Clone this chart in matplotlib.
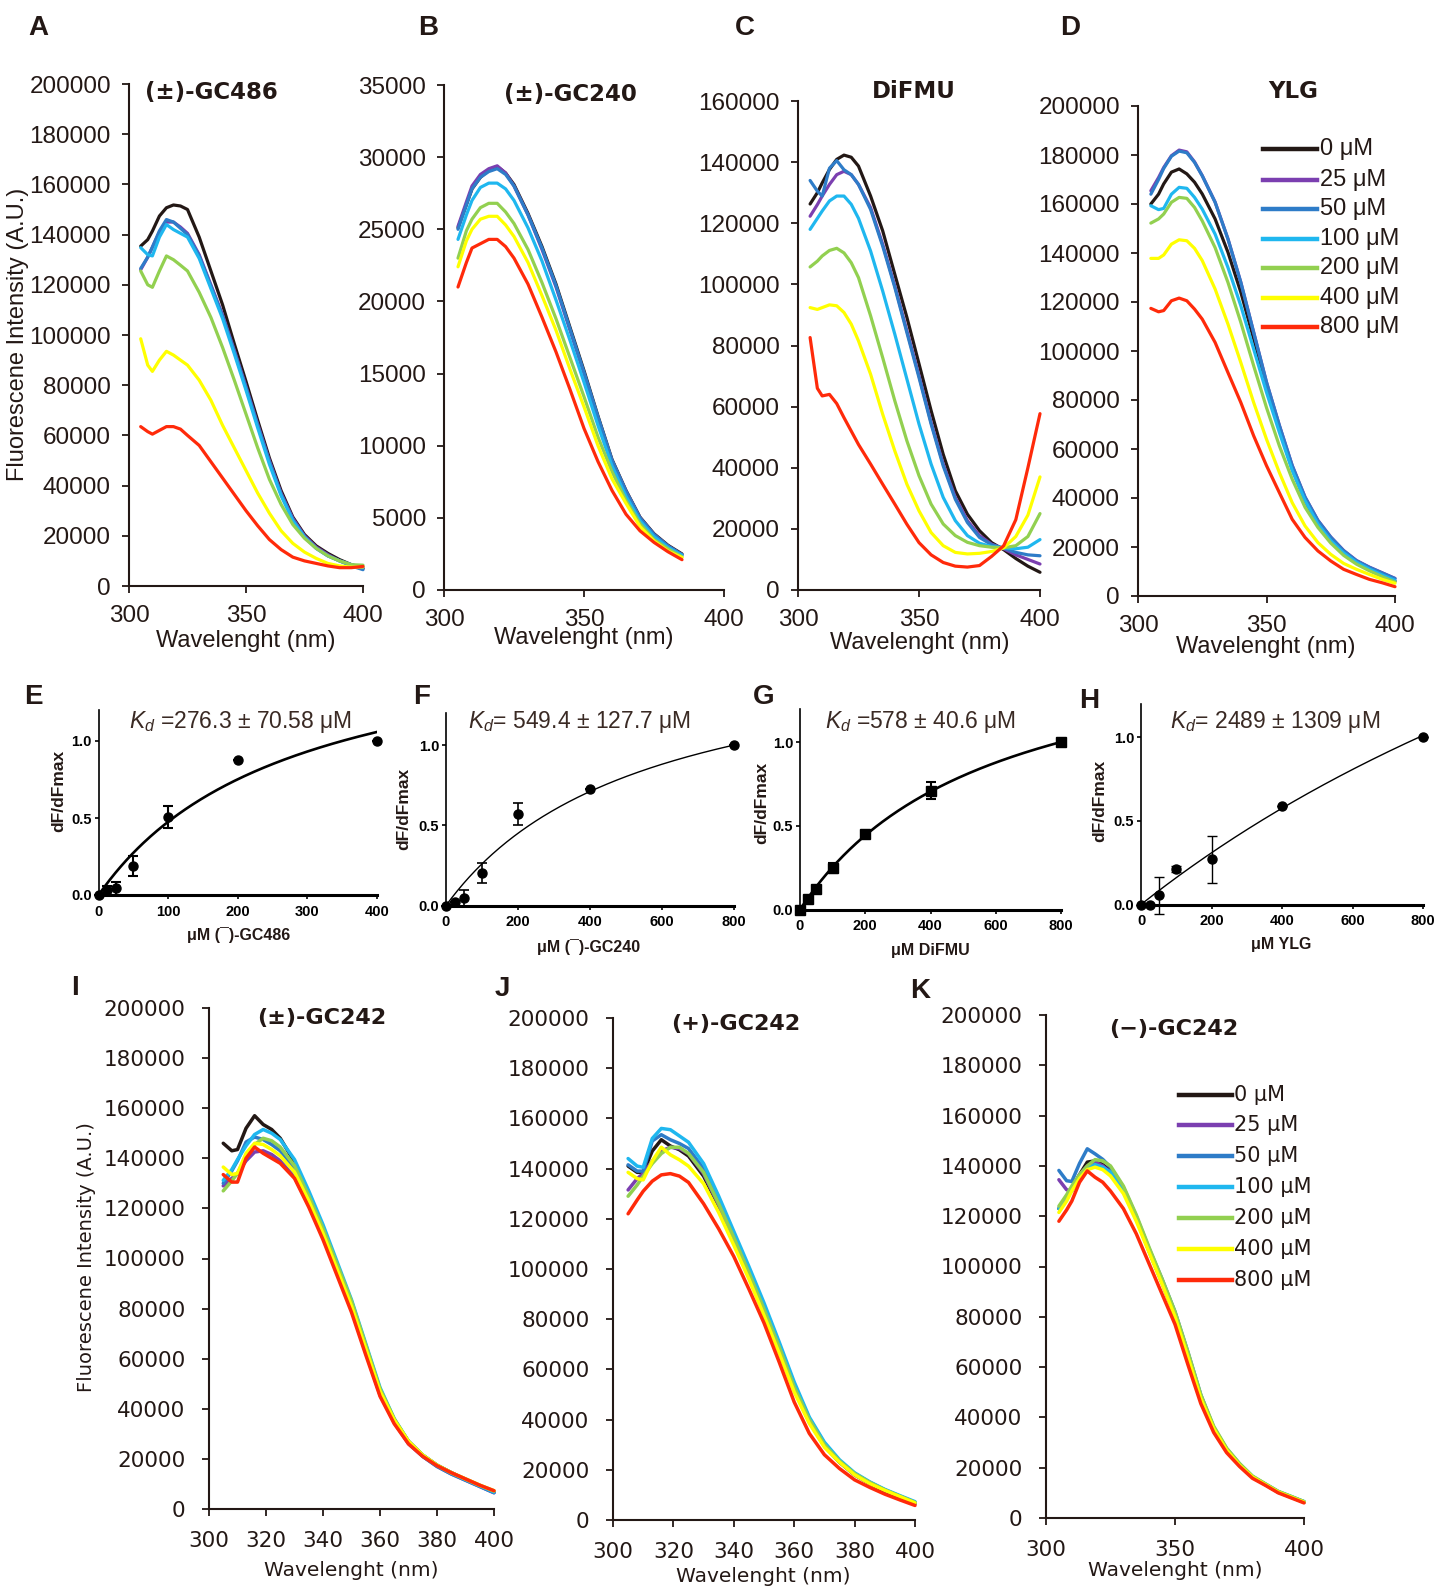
import numpy as np
import matplotlib
matplotlib.use("Agg")
import matplotlib.pyplot as plt
from matplotlib import font_manager
from matplotlib.lines import Line2D

# canvas in pixels (dpi 100)
W, H = 1437, 1593
INK = "#231815"
ARIAL = ["Liberation Sans", "DejaVu Sans"]
VERDANA = ["DejaVu Sans"]

# condensed face for the titration panels, if the system has one
try:
    font_manager.findfont("Liberation Sans Narrow", fallback_to_default=False)
    HAS_NARROW = True
except ValueError:
    HAS_NARROW = False
NARROW = ["Liberation Sans Narrow", "Liberation Sans", "DejaVu Sans"] if HAS_NARROW else ARIAL
KD_SIZE = 19 if HAS_NARROW else 16.5

plt.rcParams["mathtext.fontset"] = "custom"
plt.rcParams["mathtext.it"] = ("Liberation Sans Narrow:italic" if HAS_NARROW
                               else "Liberation Sans:italic")
plt.rcParams["mathtext.rm"] = NARROW[0]

# ── emission spectra (intensity in thousands of A.U.) ────────────────────────
WL = [305, 308, 310, 313, 316, 319, 322, 325, 330, 335, 340, 345,
      350, 355, 360, 365, 370, 375, 380, 385, 390, 395, 400]

CONC = ["0 μM", "25 μM", "50 μM", "100 μM", "200 μM", "400 μM", "800 μM"]
COLORS = ["#231815", "#7b3fb0", "#2e7cc8", "#1fb7ef", "#92d050", "#ffff00", "#ff2a0a"]

# (±)-GC486
A_0 = [135.4, 138.0, 141.4, 147.4, 150.7, 151.8, 151.4, 150.0, 139.0, 125.5, 112.0, 96.5, 81.5, 66.0, 51.0, 38.0, 27.5, 20.5, 16.0, 13.0, 10.5, 8.5, 7.0]
A_25 = [126.0, 131.0, 135.0, 141.0, 145.0, 145.0, 143.0, 140.5, 132.0, 120.0, 108.0, 94.0, 79.5, 64.5, 50.0, 37.0, 27.0, 20.0, 15.5, 12.5, 10.0, 8.5, 7.0]
A_50 = [126.5, 131.0, 135.0, 141.5, 146.0, 145.0, 142.5, 140.0, 131.5, 119.5, 107.5, 93.5, 79.0, 64.0, 49.5, 36.5, 26.5, 19.5, 15.0, 12.0, 10.0, 8.0, 6.5]
A_100 = [134.8, 132.0, 131.5, 139.0, 144.0, 142.0, 140.5, 139.0, 130.5, 118.5, 106.5, 92.5, 78.0, 63.0, 48.5, 36.0, 26.0, 19.5, 15.0, 12.0, 10.0, 8.5, 7.5]
A_200 = [125.5, 120.0, 119.0, 125.5, 131.5, 130.0, 127.8, 125.5, 117.0, 107.0, 95.0, 82.0, 68.5, 55.0, 42.5, 32.5, 24.5, 19.0, 15.0, 12.0, 10.0, 8.5, 8.3]
A_400 = [98.5, 88.0, 85.5, 90.0, 93.5, 92.0, 90.0, 88.0, 82.0, 74.0, 64.0, 55.0, 46.0, 37.0, 29.0, 22.0, 17.0, 13.5, 11.0, 9.0, 8.0, 7.5, 7.6]
A_800 = [63.5, 61.5, 60.5, 62.0, 63.5, 63.5, 62.5, 60.0, 56.0, 49.5, 43.0, 36.5, 30.0, 24.0, 18.5, 14.5, 11.5, 10.0, 9.0, 8.0, 7.3, 7.3, 7.8]

# (±)-GC240 (recorded up to 385 nm)
B_0 = [25.1, 26.7, 27.8, 28.6, 29.1, 29.35, 28.9, 28.1, 26.1, 23.8, 21.2, 18.2, 15.2, 12.05, 9.05, 6.9, 5.05, 3.9, 3.1, 2.5]
B_25 = [25.2, 26.9, 28.0, 28.8, 29.2, 29.4, 28.9, 28.0, 26.0, 23.6, 21.0, 18.0, 15.0, 11.9, 8.95, 6.85, 5.0, 3.85, 3.05, 2.45]
B_50 = [25.0, 26.7, 27.8, 28.6, 29.0, 29.2, 28.8, 28.0, 26.0, 23.7, 21.1, 18.1, 15.1, 12.0, 9.0, 6.85, 5.0, 3.85, 3.05, 2.45]
B_100 = [24.3, 26.0, 27.0, 27.9, 28.2, 28.2, 27.8, 27.0, 25.1, 22.8, 20.1, 17.3, 14.4, 11.4, 8.6, 6.5, 4.8, 3.7, 2.95, 2.4]
B_200 = [23.0, 24.9, 25.7, 26.5, 26.8, 26.8, 26.2, 25.4, 23.6, 21.3, 18.8, 16.1, 13.4, 10.6, 8.2, 6.2, 4.6, 3.5, 2.85, 2.3]
B_400 = [22.4, 24.2, 25.0, 25.7, 25.9, 25.9, 25.3, 24.5, 22.7, 20.4, 18.0, 15.3, 12.7, 10.0, 7.7, 6.0, 4.4, 3.4, 2.7, 2.25]
B_800 = [21.0, 22.7, 23.7, 24.0, 24.3, 24.3, 23.8, 23.0, 21.2, 18.9, 16.5, 13.9, 11.2, 8.9, 6.9, 5.25, 4.1, 3.3, 2.65, 2.1]

# DiFMU
C_0 = [126.3, 130.0, 133.2, 137.6, 140.9, 142.3, 141.6, 138.7, 128.9, 117.5, 103.3, 89.2, 74.0, 58.7, 44.4, 32.5, 24.8, 19.4, 15.5, 13.2, 10.3, 7.8, 5.8]
C_25 = [122.3, 126.1, 128.9, 132.7, 135.9, 137.0, 135.9, 132.7, 125.1, 113.1, 99.5, 84.8, 70.1, 54.8, 41.2, 30.3, 22.7, 17.8, 15.0, 13.5, 11.5, 10.0, 8.5]
C_50 = [134.0, 130.5, 128.9, 138.0, 140.5, 137.5, 135.9, 132.7, 124.5, 112.5, 99.0, 84.2, 69.5, 54.3, 40.6, 29.7, 22.1, 17.2, 14.8, 13.7, 12.3, 11.5, 11.2]
C_100 = [118.0, 121.6, 124.0, 127.3, 128.9, 128.9, 126.2, 121.6, 110.9, 97.8, 83.7, 69.0, 54.3, 41.2, 30.3, 22.7, 17.8, 15.3, 14.2, 13.8, 13.5, 14.0, 16.5]
C_200 = [105.7, 107.6, 109.3, 111.1, 111.8, 110.3, 107.1, 102.2, 89.7, 76.0, 61.9, 48.8, 37.4, 28.1, 21.6, 17.8, 15.6, 14.5, 14.0, 13.8, 14.5, 17.5, 25.0]
C_400 = [92.4, 91.8, 92.4, 93.3, 93.0, 90.8, 87.0, 81.5, 70.6, 57.5, 45.5, 34.6, 25.9, 18.8, 14.5, 12.3, 11.8, 12.0, 12.6, 13.8, 17.5, 24.5, 37.0]
C_800 = [82.6, 66.0, 63.5, 64.0, 61.0, 56.4, 52.0, 47.6, 41.2, 34.6, 28.1, 21.5, 15.5, 11.5, 9.0, 7.8, 7.5, 8.0, 11.0, 14.5, 23.0, 40.0, 57.7]

# YLG
D_0 = [160.0, 164.0, 168.2, 173.0, 174.3, 172.3, 168.9, 164.1, 153.9, 140.3, 124.0, 105.0, 85.9, 68.2, 51.9, 38.9, 29.4, 22.6, 17.2, 13.8, 11.0, 8.6, 6.1]
D_25 = [165.4, 170.8, 174.9, 179.7, 182.0, 181.3, 177.2, 171.6, 160.8, 145.8, 128.1, 107.7, 87.3, 69.7, 53.3, 40.4, 30.9, 24.1, 18.6, 14.5, 11.8, 9.5, 7.2]
D_50 = [164.0, 170.0, 174.5, 179.5, 181.6, 180.9, 177.0, 171.5, 160.7, 145.7, 128.0, 107.6, 87.2, 69.6, 53.2, 40.3, 30.8, 24.0, 18.5, 14.4, 11.7, 9.4, 7.1]
D_100 = [159.3, 157.7, 158.2, 164.0, 166.8, 166.4, 162.7, 157.9, 147.7, 134.1, 118.5, 100.8, 83.1, 66.8, 51.2, 38.9, 29.4, 22.6, 17.6, 13.8, 11.0, 8.6, 6.4]
D_200 = [152.2, 153.9, 155.9, 160.7, 162.7, 162.3, 158.6, 153.1, 142.2, 128.0, 111.7, 94.0, 76.9, 61.3, 47.7, 36.2, 28.0, 21.6, 16.6, 13.0, 10.3, 7.9, 5.7]
D_400 = [137.8, 137.8, 139.2, 143.6, 145.4, 145.0, 141.9, 136.9, 125.3, 111.0, 95.3, 79.0, 64.0, 50.4, 38.1, 28.6, 21.8, 17.0, 13.3, 10.9, 8.8, 6.8, 5.2]
D_800 = [117.4, 116.0, 116.5, 120.5, 121.6, 120.5, 117.1, 113.0, 103.5, 91.2, 79.0, 65.4, 53.2, 42.2, 31.3, 23.9, 18.4, 14.3, 10.9, 8.8, 6.8, 5.4, 3.8]

# (±)-GC242
I_0 = [146.0, 143.0, 143.5, 152.0, 157.0, 153.5, 151.5, 148.0, 138.5, 125.5, 112.0, 97.0, 82.5, 65.0, 47.5, 35.5, 27.0, 21.5, 17.5, 14.5, 11.8, 9.3, 6.8]
I_25 = [129.0, 132.0, 134.0, 139.0, 142.5, 143.0, 141.5, 139.0, 132.5, 121.5, 108.5, 94.0, 79.5, 62.5, 45.5, 34.5, 26.0, 21.0, 17.0, 14.0, 11.5, 9.0, 6.5]
I_50 = [130.0, 135.0, 139.0, 146.5, 148.5, 147.5, 145.5, 143.0, 136.0, 124.5, 111.5, 97.0, 82.5, 65.0, 47.5, 35.5, 26.5, 21.0, 17.0, 14.0, 11.5, 9.0, 6.5]
I_100 = [131.2, 135.5, 139.5, 145.0, 149.5, 151.5, 150.0, 147.5, 139.5, 127.0, 113.5, 98.5, 83.5, 66.0, 48.5, 36.0, 27.0, 21.5, 17.5, 14.5, 11.8, 9.3, 6.8]
I_200 = [127.0, 131.0, 134.0, 141.0, 145.5, 148.0, 147.0, 144.5, 137.0, 125.0, 112.0, 97.5, 83.0, 65.5, 48.0, 36.0, 27.0, 21.5, 17.5, 14.5, 12.0, 9.5, 7.2]
I_400 = [136.5, 133.5, 134.0, 142.0, 146.0, 145.5, 143.5, 141.0, 134.5, 123.0, 110.0, 95.5, 81.0, 64.0, 47.0, 35.5, 27.0, 21.5, 17.5, 14.5, 12.0, 9.5, 7.3]
I_800 = [133.5, 130.5, 130.5, 140.0, 144.5, 142.0, 140.0, 138.0, 132.0, 120.5, 107.5, 93.0, 78.5, 61.5, 45.0, 34.0, 26.0, 21.0, 17.3, 14.5, 12.0, 9.5, 7.3]

# (+)-GC242
J_0 = [141.0, 138.5, 138.5, 147.0, 151.5, 149.0, 147.5, 145.0, 137.0, 125.0, 111.5, 97.5, 83.0, 68.0, 52.0, 39.0, 29.5, 23.0, 18.0, 14.5, 11.5, 9.0, 6.5]
J_25 = [131.5, 136.0, 138.0, 143.0, 147.0, 148.5, 148.0, 146.0, 138.0, 125.5, 112.0, 98.0, 83.5, 68.5, 52.5, 39.5, 30.0, 23.5, 18.3, 14.8, 11.8, 9.3, 6.8]
J_50 = [141.5, 139.0, 139.0, 151.0, 153.5, 151.5, 150.0, 148.0, 140.0, 127.5, 113.5, 99.5, 85.0, 70.0, 54.0, 40.5, 30.5, 23.5, 18.5, 15.0, 12.0, 9.5, 7.0]
J_100 = [144.0, 141.0, 140.5, 152.0, 156.0, 155.5, 153.0, 150.5, 142.0, 129.0, 115.0, 101.0, 86.5, 71.0, 55.0, 41.0, 31.0, 24.0, 18.8, 15.2, 12.2, 9.7, 7.3]
J_200 = [129.0, 133.5, 137.0, 142.0, 146.0, 148.5, 148.5, 146.0, 138.5, 126.0, 112.5, 98.5, 84.0, 69.0, 53.0, 40.0, 30.0, 23.5, 18.5, 15.0, 12.0, 9.5, 7.0]
J_400 = [138.5, 136.0, 135.5, 143.0, 148.5, 145.5, 143.5, 141.0, 134.0, 122.5, 109.5, 96.0, 81.5, 66.5, 51.0, 38.5, 29.0, 23.0, 18.0, 14.5, 11.8, 9.3, 6.8]
J_800 = [122.0, 127.5, 131.0, 135.0, 137.5, 138.0, 137.0, 134.5, 126.0, 116.0, 105.0, 92.0, 78.5, 63.0, 47.0, 34.5, 26.0, 20.5, 16.0, 13.0, 10.3, 8.0, 5.8]

# (−)-GC242
K_0 = [123.0, 127.5, 131.0, 136.5, 141.5, 142.0, 140.5, 138.0, 130.0, 119.0, 106.0, 93.5, 80.5, 64.5, 48.0, 35.5, 27.0, 21.0, 16.3, 13.3, 10.3, 8.3, 6.3]
K_25 = [134.5, 130.5, 130.0, 136.5, 140.0, 141.5, 140.0, 137.5, 130.0, 119.0, 106.0, 93.5, 80.5, 64.5, 48.0, 35.5, 27.0, 21.0, 16.3, 13.3, 10.3, 8.3, 6.3]
K_50 = [138.2, 134.1, 133.8, 141.0, 146.8, 144.8, 142.6, 139.5, 131.5, 120.0, 107.0, 95.0, 82.0, 66.0, 49.0, 36.0, 27.5, 21.5, 16.5, 13.5, 10.5, 8.5, 6.5]
K_100 = [123.0, 128.0, 131.0, 136.0, 139.0, 140.5, 139.5, 137.5, 130.5, 119.5, 106.5, 94.0, 81.0, 65.0, 48.5, 36.0, 27.5, 21.5, 16.5, 13.5, 10.5, 8.5, 6.5]
K_200 = [124.0, 128.5, 132.0, 136.5, 140.0, 142.5, 142.0, 140.0, 132.0, 120.5, 107.5, 95.0, 82.0, 66.0, 49.0, 36.5, 27.8, 21.7, 16.7, 13.6, 10.6, 8.6, 6.5]
K_400 = [121.5, 126.0, 130.0, 135.0, 138.5, 139.5, 138.5, 136.0, 129.0, 118.0, 105.5, 93.0, 80.0, 64.0, 47.5, 35.5, 27.0, 21.0, 16.3, 13.3, 10.3, 8.3, 6.3]
K_800 = [118.0, 122.5, 126.0, 133.5, 138.0, 135.5, 133.5, 130.0, 123.0, 113.0, 101.0, 89.0, 77.0, 61.0, 45.5, 34.0, 26.0, 20.5, 15.8, 13.0, 10.0, 8.0, 6.0]

# ── binding titrations (normalised dF/dFmax) ─────────────────────────────────
E_CONC = [0, 12.5, 25, 50, 100, 200, 400]
E_RESP = [0.0, 0.03, 0.043, 0.19, 0.506, 0.875, 1.0]
E_ERR = [0.0, 0.03, 0.04, 0.065, 0.07, 0.0, 0.0]
E_KD, E_KD_SD, E_BMAX = 276.3, 70.58, 1.79

F_CONC = [0, 25, 50, 100, 200, 400, 800]
F_RESP = [0.0, 0.02, 0.045, 0.203, 0.57, 0.724, 1.0]
F_ERR = [0.0, 0.0, 0.05, 0.06, 0.07, 0.0, 0.0]
F_KD, F_KD_SD, F_BMAX = 549.4, 127.7, 1.687

G_CONC = [0, 25, 50, 100, 200, 400, 800]
G_RESP = [0.0, 0.066, 0.12, 0.25, 0.45, 0.71, 1.0]
G_ERR = [0.0, 0.01, 0.015, 0.03, 0.01, 0.05, 0.02]
G_KD, G_KD_SD, G_BMAX = 578.0, 40.6, 1.7225

H_CONC = [0, 25, 50, 100, 200, 400, 800]
H_RESP = [0.0, 0.0, 0.054, 0.212, 0.27, 0.59, 1.0]
H_ERR = [0.0, 0.0, 0.11, 0.02, 0.14, 0.0, 0.0]
H_KD, H_KD_SD, H_BMAX = 2489.0, 1309, 4.15


def rect(x0, x1, ytop, ybot):
    """pixel box -> figure fraction rectangle"""
    return [x0 / W, 1 - ybot / H, (x1 - x0) / W, (ybot - ytop) / H]


def ftext(x, y, s, **kw):
    fig.text(x / W, 1 - y / H, s, ha=kw.pop("ha", "center"), va=kw.pop("va", "center"),
             color=kw.pop("color", INK), **kw)


def spectra(box, series, ymax, ystep, xticks, family, size, lw=2.3, ypad=8, xpad=9):
    ax = fig.add_axes(box)
    for vals, c in zip(series, COLORS):
        ax.plot(WL[:len(vals)], np.array(vals) * 1000, color=c, lw=lw,
                solid_joinstyle="round", solid_capstyle="round", clip_on=False)
    ax.set_xlim(300, 400)
    ax.set_ylim(0, ymax)
    ax.set_xticks(xticks)
    ax.set_yticks(np.arange(0, ymax + 1, ystep))
    for s in ["top", "right"]:
        ax.spines[s].set_visible(False)
    for s in ["left", "bottom"]:
        ax.spines[s].set_color(INK)
        ax.spines[s].set_linewidth(1.5)
    ax.tick_params(direction="out", length=5, width=1.3, color=INK, labelcolor=INK,
                   labelsize=size)
    ax.tick_params(axis="y", pad=ypad)
    ax.tick_params(axis="x", pad=xpad)
    for lab in ax.get_xticklabels() + ax.get_yticklabels():
        lab.set_family(family)
    ax.patch.set_alpha(0)
    return ax


def binding(box, conc, resp, err, kd, bmax, xmax, xticks, marker, lw, elw):
    ax = fig.add_axes(box)
    xs = np.linspace(0, xmax, 200)
    ax.plot(xs, bmax * xs / (kd + xs), color="black", lw=lw)
    ax.errorbar(conc, resp, yerr=err, fmt=marker, color="black", ms=6.5,
                ecolor="black", elinewidth=elw, capsize=3.5, capthick=elw, clip_on=False)
    ax.set_xlim(0, xmax)
    ax.set_ylim(0, 1.2)
    ax.set_xticks(xticks)
    ax.set_yticks([0.0, 0.5, 1.0])
    ax.set_yticklabels(["0.0", "0.5", "1.0"])
    for s in ["top", "right"]:
        ax.spines[s].set_visible(False)
    ax.spines["bottom"].set_linewidth(2.2)
    ax.spines["left"].set_linewidth(1.2)
    ax.tick_params(direction="out", length=3, width=1.2, labelsize=10.5, pad=2)
    ax.tick_params(axis="x", pad=4)
    for lab in ax.get_xticklabels() + ax.get_yticklabels():
        lab.set_family(NARROW)
        lab.set_weight("bold")
    ax.patch.set_alpha(0)
    return ax


fig = plt.figure(figsize=(W / 100, H / 100), dpi=100)

# ── top row ──────────────────────────────────────────────────────────────────
spectra(rect(129, 363, 84, 586), [A_0, A_25, A_50, A_100, A_200, A_400, A_800],
        200000, 20000, [300, 350, 400], ARIAL, 17.5)
spectra(rect(444, 724, 85, 590), [B_0, B_25, B_50, B_100, B_200, B_400, B_800],
        35000, 5000, [300, 350, 400], ARIAL, 17.5)
spectra(rect(798, 1040, 101, 590), [C_0, C_25, C_50, C_100, C_200, C_400, C_800],
        160000, 20000, [300, 350, 400], ARIAL, 17.5)
spectra(rect(1138, 1395, 106, 596), [D_0, D_25, D_50, D_100, D_200, D_400, D_800],
        200000, 20000, [300, 350, 400], ARIAL, 17.5)

for x, y, t in [(211, 92, "(±)-GC486"), (570, 94, "(±)-GC240"),
                (914, 92, "DiFMU"), (1293, 92, "YLG")]:
    ftext(x, y, t, family=VERDANA, weight="bold", fontsize=16.5)
for x, y in [(246, 641), (584, 638), (920, 643), (1266, 647)]:
    ftext(x, y, "Wavelenght (nm)", family=ARIAL, fontsize=17)
ftext(18, 334, "Fluorescene Intensity (A.U.)", family=ARIAL, fontsize=17, rotation=90)

# ── middle row ───────────────────────────────────────────────────────────────
binding(rect(98.6, 377, 710.2, 895), E_CONC, E_RESP, E_ERR, E_KD, E_BMAX, 400,
        [0, 100, 200, 300, 400], "o", 1.9, 1.5)
binding(rect(446, 734, 713, 905.5), F_CONC, F_RESP, F_ERR, F_KD, F_BMAX, 800,
        [0, 200, 400, 600, 800], "o", 1.0, 1.2)
binding(rect(800, 1061, 708.5, 909.6), G_CONC, G_RESP, G_ERR, G_KD, G_BMAX, 800,
        [0, 200, 400, 600, 800], "s", 1.9, 1.5)
binding(rect(1141, 1423, 703.5, 904.5), H_CONC, H_RESP, H_ERR, H_KD, H_BMAX, 800,
        [0, 200, 400, 600, 800], "o", 1.0, 1.0)

kd_labels = [
    (240, 722, rf"$K_d$ ={E_KD:g} ± {E_KD_SD:g} μM"),
    (579, 722, rf"$K_d$= {F_KD:g} ± {F_KD_SD:g} μM"),
    (920, 722, rf"$K_d$ ={G_KD:g} ± {G_KD_SD:g} μM"),
    (1275, 722, rf"$K_d$= {H_KD:g} ± {H_KD_SD:g} μM"),
]
for x, y, t in kd_labels:
    ftext(x, y, t, family=NARROW, fontsize=KD_SIZE, color="#3a2a24")

for x, y, t in [(239, 935, "μM (¯)-GC486"), (589, 947, "μM (¯)-GC240"),
                (930, 951, "μM DiFMU"), (1281, 945, "μM YLG")]:
    ftext(x, y, t, family=NARROW, weight="bold", fontsize=11.5)
for x, y in [(59, 791), (404, 809), (762, 803), (1100, 801)]:
    ftext(x, y, "dF/dFmax", family=ARIAL, weight="bold", fontsize=12.5, rotation=90)

# ── bottom row ───────────────────────────────────────────────────────────────
spectra(rect(209, 494, 1008, 1509), [I_0, I_25, I_50, I_100, I_200, I_400, I_800],
        200000, 20000, [300, 320, 340, 360, 380, 400], VERDANA, 15.5, lw=2.5, ypad=12, xpad=11)
spectra(rect(613, 915, 1018, 1520), [J_0, J_25, J_50, J_100, J_200, J_400, J_800],
        200000, 20000, [300, 320, 340, 360, 380, 400], VERDANA, 15.5, lw=2.5, ypad=12, xpad=11)
spectra(rect(1046, 1304, 1015, 1518), [K_0, K_25, K_50, K_100, K_200, K_400, K_800],
        200000, 20000, [300, 350, 400], VERDANA, 15.5, lw=2.5, ypad=12, xpad=11)

for x, y, t in [(322, 1018, "(±)-GC242"), (736, 1024, "(+)-GC242"), (1174, 1029, "(−)-GC242")]:
    ftext(x, y, t, family=VERDANA, weight="bold", fontsize=16)
for x, y in [(351, 1571), (763, 1576), (1175, 1571)]:
    ftext(x, y, "Wavelenght (nm)", family=VERDANA, fontsize=14.5)
ftext(87, 1257, "Fluorescene Intensity (A.U.)", family=VERDANA, fontsize=14, rotation=90)


# ── concentration keys ───────────────────────────────────────────────────────
def key(x0, x1, xt, rows, family, size):
    for y, lab, c in zip(rows, CONC, COLORS):
        fig.add_artist(Line2D([x0 / W, x1 / W], [1 - y / H, 1 - y / H],
                              color=c, lw=3.2, transform=fig.transFigure))
        ftext(xt, y, lab, family=family, fontsize=size, ha="left")


key(1263, 1317, 1320, [149, 180, 209, 239, 268, 298, 327], ARIAL, 17)
key(1179, 1232, 1234, [1095, 1125, 1156, 1187, 1218, 1249, 1280], VERDANA, 15)

# ── panel letters ────────────────────────────────────────────────────────────
for x, y, t in [(38, 28, "A"), (428, 28, "B"), (745, 28, "C"), (1070, 28, "D"),
                (33, 697, "E"), (422, 697, "F"), (764, 697, "G"), (1089, 701, "H"),
                (75, 988, "I"), (502, 989, "J"), (920, 991, "K")]:
    ftext(x, y, t, family=ARIAL, weight="bold", fontsize=20)

fig.savefig("out.png", dpi=100)
